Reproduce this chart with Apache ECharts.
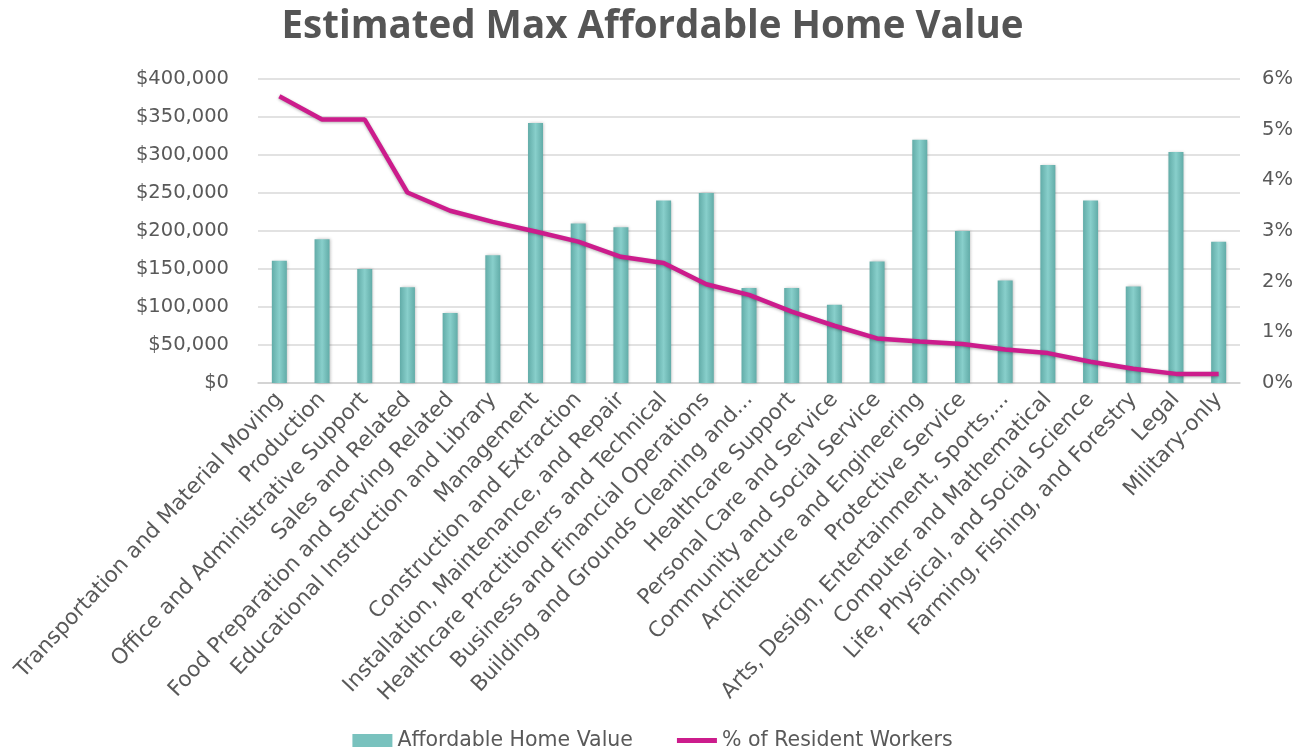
<!DOCTYPE html>
<html>
<head>
<meta charset="utf-8">
<title>Estimated Max Affordable Home Value</title>
<script src="https://cdn.jsdelivr.net/npm/echarts@6/dist/echarts.min.js"></script>
<style>
  html, body { margin: 0; padding: 0; background: #ffffff; }
  #chart { width: 1305px; height: 751px; }
</style>
</head>
<body>
<div id="chart"></div>
<script>
// Occupation groups, ordered by share of resident workers
const occupations = [
  'Transportation and Material Moving',
  'Production',
  'Office and Administrative Support',
  'Sales and Related',
  'Food Preparation and Serving Related',
  'Educational Instruction and Library',
  'Management',
  'Construction and Extraction',
  'Installation, Maintenance, and Repair',
  'Healthcare Practitioners and Technical',
  'Business and Financial Operations',
  'Building and Grounds Cleaning and...',
  'Healthcare Support',
  'Personal Care and Service',
  'Community and Social Service',
  'Architecture and Engineering',
  'Protective Service',
  'Arts, Design, Entertainment, Sports,...',
  'Computer and Mathematical',
  'Life, Physical, and Social Science',
  'Farming, Fishing, and Forestry',
  'Legal',
  'Military-only'
];

// Estimated maximum affordable home value (USD)
const homeValues = [
  161000, 189000, 150000, 126000, 92000, 168000, 342000, 210000, 205000, 240000,
  250000, 125000, 125000, 103000, 160000, 320000, 200000, 135000, 287000, 240000,
  127000, 304000, 186000
];

// Share of resident workers (%)
const workerShare = [
  5.66, 5.20, 5.20, 3.76, 3.40, 3.18, 2.99, 2.79, 2.49, 2.37,
  1.95, 1.74, 1.41, 1.13, 0.88, 0.82, 0.77, 0.66, 0.59, 0.42,
  0.28, 0.18, 0.18
];

// Axis tick settings
const leftAxisMax = 400000;
const leftAxisStep = 50000;
const rightAxisMax = 6;
const rightAxisStep = 1;

const titleFont = 'Open Sans, Noto Sans, sans-serif';
const font = 'DejaVu Sans, Noto Sans, sans-serif';
const textGray = '#595959';
const lineColor = '#cc1c8c';

const chart = echarts.init(document.getElementById('chart'), null, { renderer: 'canvas' });

const barFill = new echarts.graphic.LinearGradient(0, 0, 1, 0, [
  { offset: 0, color: '#62aca8' },
  { offset: 0.5, color: '#88cfcb' },
  { offset: 1, color: '#62aca8' }
]);

chart.setOption({
  animation: false,
  backgroundColor: '#ffffff',
  title: {
    text: 'Estimated Max Affordable Home Value',
    left: 'center',
    top: 3,
    textStyle: { fontFamily: titleFont, fontSize: 38.5, fontWeight: 'bold', color: '#555555' }
  },
  legend: {
    top: 725,
    left: 'center',
    itemGap: 44,
    itemWidth: 40,
    itemHeight: 13,
    symbolKeepAspect: true,
    textStyle: { fontFamily: font, fontSize: 20.5, color: textGray },
    data: [
      { name: 'Affordable Home Value', icon: 'rect', itemStyle: { color: '#79c2be' } },
      {
        name: '% of Resident Workers',
        icon: 'path://M0,0 L40,0 L40,5 L0,5 Z',
        itemStyle: { color: lineColor }
      }
    ]
  },
  grid: { left: 258, right: 65, top: 79, bottom: 368, containLabel: false },
  xAxis: {
    type: 'category',
    data: occupations,
    axisTick: { show: false },
    axisLine: { lineStyle: { color: '#d0d0d0', width: 1.5 } },
    axisLabel: {
      interval: 0,
      rotate: 47,
      margin: 13,
      fontFamily: font,
      fontSize: 21.5,
      color: textGray
    }
  },
  yAxis: [
    {
      type: 'value',
      min: 0,
      max: leftAxisMax,
      interval: leftAxisStep,
      axisLine: { show: false },
      axisTick: { show: false },
      splitLine: { lineStyle: { color: '#d9d9d9', width: 1.5 } },
      axisLabel: {
        margin: 29,
        fontFamily: font,
        fontSize: 19.5,
        color: textGray,
        formatter: v => '$' + v.toLocaleString('en-US')
      }
    },
    {
      type: 'value',
      min: 0,
      max: rightAxisMax,
      interval: rightAxisStep,
      axisLine: { show: false },
      axisTick: { show: false },
      splitLine: { show: false },
      axisLabel: {
        margin: 22,
        fontFamily: font,
        fontSize: 19.5,
        color: textGray,
        formatter: v => v + '%'
      }
    }
  ],
  series: [
    {
      name: 'Affordable Home Value',
      type: 'bar',
      yAxisIndex: 0,
      data: homeValues,
      barWidth: 15,
      itemStyle: {
        color: barFill,
        shadowColor: 'rgba(0,0,0,0.25)',
        shadowBlur: 3,
        shadowOffsetX: 1,
        shadowOffsetY: 0
      }
    },
    {
      name: '% of Resident Workers',
      type: 'line',
      yAxisIndex: 1,
      data: workerShare,
      symbol: 'none',
      itemStyle: { color: lineColor },
      lineStyle: {
        color: lineColor,
        width: 4.5,
        shadowColor: 'rgba(0,0,0,0.3)',
        shadowBlur: 3,
        shadowOffsetY: 1
      },
      z: 5
    }
  ]
});
</script>
</body>
</html>
